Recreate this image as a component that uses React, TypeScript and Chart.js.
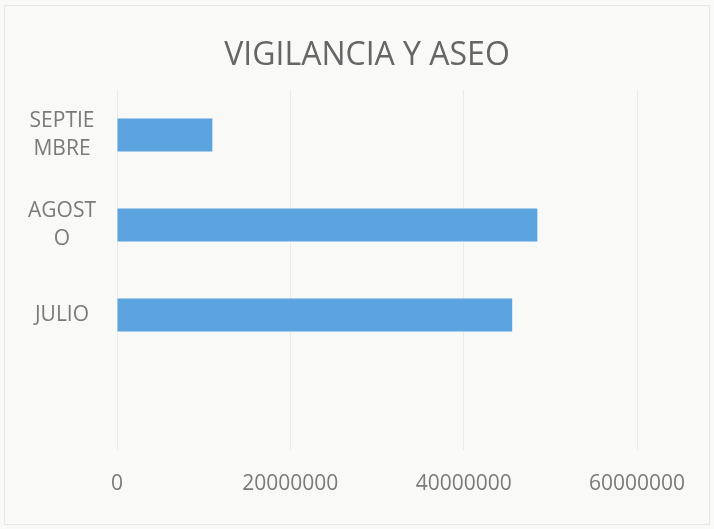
import React, { useEffect, useRef } from "react";
import { Chart, registerables } from "chart.js";

Chart.register(...registerables);

const TITLE = "VIGILANCIA Y ASEO";
const CATEGORIES: (string | string[])[] = [["SEPTIE", "MBRE"], ["AGOST", "O"], "JULIO", ""];
const VALUES: (number | null)[] = [11000000, 48500000, 45600000, null];
const X_MIN = 0;
const X_MAX = 60000000;
const X_STEP = 20000000;

const FONT = "'Open Sans', 'Noto Sans', sans-serif";

export default function App() {
  const ref = useRef<HTMLCanvasElement | null>(null);

  useEffect(() => {
    if (!ref.current) return;
    const bgPlugin = {
      id: "bgAndTitle",
      beforeDraw(chart: any) {
        const ctx = chart.ctx;
        ctx.save();
        ctx.fillStyle = "#f9f9f8";
        ctx.fillRect(0, 0, chart.width, chart.height);
        ctx.strokeStyle = "rgba(0,0,0,0.07)";
        ctx.lineWidth = 1;
        ctx.strokeRect(4.5, 5.5, chart.width - 9, chart.height - 10);
        ctx.restore();
      },
      afterDraw(chart: any) {
        const ctx = chart.ctx;
        ctx.save();
        ctx.fillStyle = "#666666";
        ctx.font = `32px ${FONT}`;
        ctx.textAlign = "center";
        ctx.textBaseline = "middle";
        ctx.fillText(TITLE, 367, 56);
        ctx.restore();
      },
    };

    const chart = new Chart(ref.current, {
      type: "bar",
      data: {
        labels: CATEGORIES as any,
        datasets: [
          {
            data: VALUES,
            backgroundColor: "#5ba4e0",
            borderWidth: 0,
            barPercentage: 0.367,
            categoryPercentage: 1,
          },
        ],
      },
      options: {
        indexAxis: "y",
        animation: false,
        responsive: true,
        maintainAspectRatio: false,
        layout: { padding: { top: 90, left: 0, right: 77, bottom: 0 } },
        plugins: {
          legend: { display: false },
          title: { display: false },
          tooltip: { enabled: false },
        },
        scales: {
          x: {
            min: X_MIN,
            max: X_MAX,
            ticks: {
              stepSize: X_STEP,
              color: "#7a7a7a",
              font: { family: FONT, size: 21 },
              padding: 21,
              maxRotation: 0,
              callback: (v: any) => String(v),
            },
            grid: {
              color: "rgba(0,0,0,0.06)",
              drawTicks: false,
            },
            border: { display: false },
            afterFit: (s: any) => {
              s.height = 79;
            },
          },
          y: {
            ticks: {
              color: "#7a7a7a",
              font: { family: FONT, size: 21, lineHeight: 1.3 },
              crossAlign: "center",
              padding: 21,
              autoSkip: false,
            },
            grid: { display: false, drawTicks: false },
            border: { display: false },
            afterFit: (s: any) => {
              s.width = 117;
            },
          },
        },
      },
      plugins: [bgPlugin],
    });
    return () => chart.destroy();
  }, []);

  return (
    <div style={{ position: "absolute", left: 0, top: 0, width: 714, height: 529 }}>
      <canvas ref={ref} />
    </div>
  );
}
